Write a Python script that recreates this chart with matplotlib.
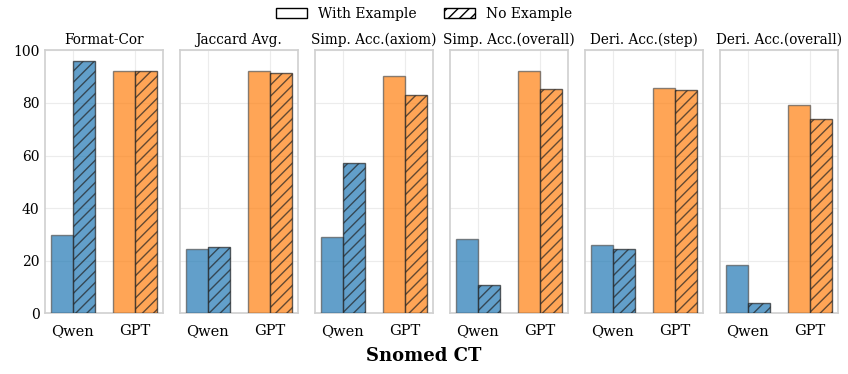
import numpy as np
import matplotlib.pyplot as plt
from matplotlib.patches import Patch

plt.rcParams['font.family'] = 'DejaVu Serif'

# data
metrics = ['Format-Cor', 'Jaccard Avg.', 'Simp. Acc.(axiom)',
           'Simp. Acc.(overall)', 'Deri. Acc.(step)', 'Deri. Acc.(overall)']
models = ['Qwen', 'GPT']
qwen_with = [29.8, 24.4, 28.9, 28.1, 26.1, 18.4]
qwen_no = [95.9, 25.3, 57.0, 10.6, 24.4, 3.8]
gpt_with = [92.3, 92.0, 90.3, 92.2, 85.9, 79.3]
gpt_no = [92.0, 91.4, 83.1, 85.3, 84.9, 73.9]

colors = ['#1f77b4', '#ff7f0e']
w = 0.35

fig, axes = plt.subplots(1, 6, figsize=(8.48, 3.74), dpi=100, sharey=True)
fig.subplots_adjust(left=0.053, right=0.988, top=0.865, bottom=0.163, wspace=0.145)

x = np.arange(len(models))
for i, ax in enumerate(axes):
    with_vals = [qwen_with[i], gpt_with[i]]
    no_vals = [qwen_no[i], gpt_no[i]]
    ax.bar(x - w / 2, with_vals, w, color=colors, alpha=0.7,
           edgecolor='#555555', linewidth=1, zorder=3)
    ax.bar(x + w / 2, no_vals, w, color=colors, alpha=0.7,
           edgecolor='#222222', linewidth=1, hatch='///', zorder=3)
    ax.set_xlim(-0.45, 1.45)
    ax.set_ylim(0, 100)
    ax.set_xticks(x)
    ax.set_xticklabels(models, fontsize=10.5)
    ax.set_title(metrics[i], fontsize=9.8, pad=5)
    ax.grid(True, color='#ececec', linewidth=0.8, zorder=0)
    ax.tick_params(length=0, pad=8)
    for s in ax.spines.values():
        s.set_color('#d0d0d0')
        s.set_linewidth(1.2)
axes[0].tick_params(axis='y', labelsize=10, pad=4)
axes[0].set_yticks([0, 20, 40, 60, 80, 100])

handles = [Patch(facecolor='white', edgecolor='black', label='With Example'),
           Patch(facecolor='white', edgecolor='black', hatch='///', label='No Example')]
fig.legend(handles=handles, loc='upper center', ncol=2, frameon=False,
           fontsize=10, bbox_to_anchor=(0.5, 1.015), handlelength=2.2,
           columnspacing=2.0, handletextpad=0.8)

fig.text(0.5, 0.035, 'Snomed CT', ha='center', fontsize=13, fontweight='bold')

plt.savefig('out.png', dpi=100)
